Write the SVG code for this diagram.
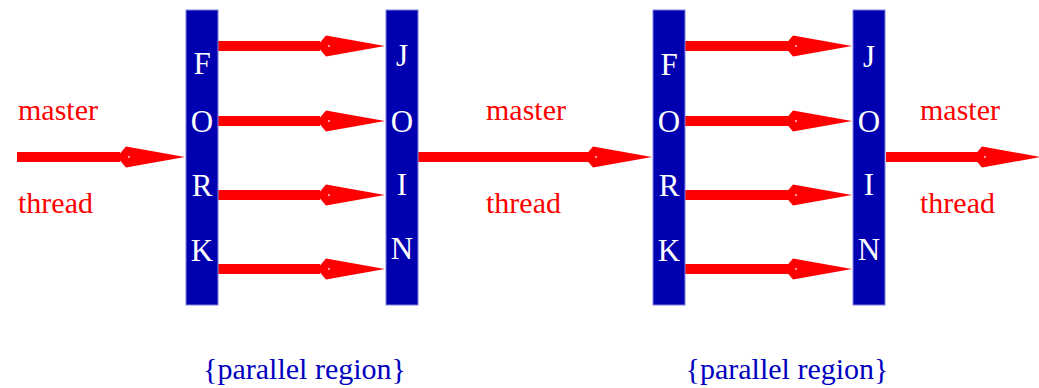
<svg xmlns="http://www.w3.org/2000/svg" xmlns:xlink="http://www.w3.org/1999/xlink" width="1039" height="388" viewBox="0 0 1039 388">
<style>
.bar{fill:#0000b0;stroke:#8080e0;stroke-width:1}
.bl{font-family:"Liberation Serif",serif;font-size:31px;fill:#ffffff;text-anchor:middle}
.lab{font-family:"Liberation Serif",serif;font-size:30px;fill:#ff0000}
.reg{font-family:"Liberation Serif",serif;font-size:30px;fill:#0000c0;text-anchor:middle}
.shaft{stroke:#ff0000;stroke-width:10;fill:none}
.head{fill:#ff0000}
</style>
<defs>
<g id="ah">
<path class="head" d="M0,0 L-59,-10.5 L-68,0 L-59,10.5 Z"/>
<rect x="-57" y="-0.6" width="2" height="1.2" fill="#ffffff"/>
</g>
</defs>
<g id="connectors">
<line class="shaft" x1="17" y1="157" x2="120" y2="157"/>
<use xlink:href="#ah" transform="translate(185,157)"/>
<line class="shaft" x1="418" y1="157" x2="588" y2="157"/>
<use xlink:href="#ah" transform="translate(652,157)"/>
<line class="shaft" x1="886" y1="157" x2="978" y2="157"/>
<use xlink:href="#ah" transform="translate(1041,157)"/>
<line class="shaft" x1="218" y1="46" x2="320" y2="46"/>
<use xlink:href="#ah" transform="translate(385,46)"/>
<line class="shaft" x1="218" y1="121" x2="320" y2="121"/>
<use xlink:href="#ah" transform="translate(385,121)"/>
<line class="shaft" x1="218" y1="195" x2="320" y2="195"/>
<use xlink:href="#ah" transform="translate(385,195)"/>
<line class="shaft" x1="218" y1="269" x2="320" y2="269"/>
<use xlink:href="#ah" transform="translate(385,269)"/>
<line class="shaft" x1="685" y1="46" x2="788" y2="46"/>
<use xlink:href="#ah" transform="translate(852,46)"/>
<line class="shaft" x1="685" y1="121" x2="788" y2="121"/>
<use xlink:href="#ah" transform="translate(852,121)"/>
<line class="shaft" x1="685" y1="195" x2="788" y2="195"/>
<use xlink:href="#ah" transform="translate(852,195)"/>
<line class="shaft" x1="685" y1="269" x2="788" y2="269"/>
<use xlink:href="#ah" transform="translate(852,269)"/>
</g>
<g id="fork1">
<rect class="bar" x="186" y="10" width="32" height="295"/>
<text class="bl" x="202" y="74">F</text>
<text class="bl" x="202" y="132">O</text>
<text class="bl" x="202" y="196">R</text>
<text class="bl" x="202" y="261">K</text>
</g>
<g id="join1">
<rect class="bar" x="386" y="10" width="32" height="295"/>
<text class="bl" x="402" y="66">J</text>
<text class="bl" x="402" y="132">O</text>
<text class="bl" x="402" y="195">I</text>
<text class="bl" x="402" y="259">N</text>
</g>
<g id="fork2">
<rect class="bar" x="653" y="10" width="32" height="295"/>
<text class="bl" x="669" y="75">F</text>
<text class="bl" x="669" y="132">O</text>
<text class="bl" x="669" y="196">R</text>
<text class="bl" x="669" y="261">K</text>
</g>
<g id="join2">
<rect class="bar" x="853" y="10" width="32" height="295"/>
<text class="bl" x="869" y="67">J</text>
<text class="bl" x="869" y="132">O</text>
<text class="bl" x="869" y="195">I</text>
<text class="bl" x="869" y="260">N</text>
</g>
<g id="labels">
<text class="lab" x="18" y="120">master</text>
<text class="lab" x="18" y="213">thread</text>
<text class="lab" x="486" y="120">master</text>
<text class="lab" x="486" y="213">thread</text>
<text class="lab" x="920" y="120">master</text>
<text class="lab" x="920" y="213">thread</text>
<text class="reg" x="304.5" y="379">{parallel region}</text>
<text class="reg" x="787" y="379">{parallel region}</text>
</g>
</svg>
